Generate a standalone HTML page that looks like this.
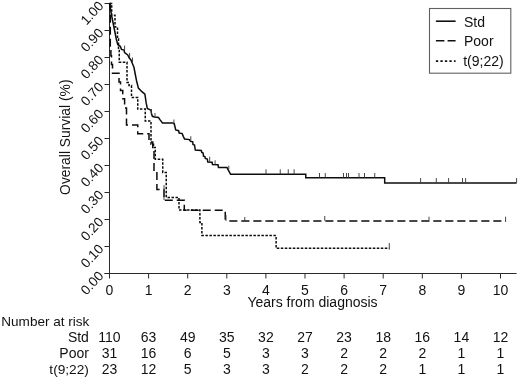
<!DOCTYPE html>
<html><head><meta charset="utf-8"><title>Overall Survival</title>
<style>
html,body{margin:0;padding:0;background:#fff;}
body{width:520px;height:377px;overflow:hidden;}
svg{display:block;font-family:"Liberation Sans",sans-serif;fill:#111;}
</style></head><body>
<svg width="520" height="377" viewBox="0 0 520 377">
<rect width="520" height="377" fill="#fff" stroke="none"/>
<g stroke="#2a2a2a" stroke-width="1" fill="none">
<line x1="109.50" y1="3" x2="109.50" y2="273.50"/>
<line x1="104.50" y1="273.50" x2="516.60" y2="273.50"/>
<line x1="109.50" y1="273.50" x2="109.50" y2="278.50"/>
<line x1="148.60" y1="273.50" x2="148.60" y2="278.50"/>
<line x1="187.70" y1="273.50" x2="187.70" y2="278.50"/>
<line x1="226.80" y1="273.50" x2="226.80" y2="278.50"/>
<line x1="265.90" y1="273.50" x2="265.90" y2="278.50"/>
<line x1="305.00" y1="273.50" x2="305.00" y2="278.50"/>
<line x1="344.10" y1="273.50" x2="344.10" y2="278.50"/>
<line x1="383.20" y1="273.50" x2="383.20" y2="278.50"/>
<line x1="422.30" y1="273.50" x2="422.30" y2="278.50"/>
<line x1="461.40" y1="273.50" x2="461.40" y2="278.50"/>
<line x1="500.50" y1="273.50" x2="500.50" y2="278.50"/>
<line x1="104.50" y1="273.50" x2="109.50" y2="273.50"/>
<line x1="104.50" y1="246.50" x2="109.50" y2="246.50"/>
<line x1="104.50" y1="219.50" x2="109.50" y2="219.50"/>
<line x1="104.50" y1="192.50" x2="109.50" y2="192.50"/>
<line x1="104.50" y1="165.50" x2="109.50" y2="165.50"/>
<line x1="104.50" y1="138.50" x2="109.50" y2="138.50"/>
<line x1="104.50" y1="111.50" x2="109.50" y2="111.50"/>
<line x1="104.50" y1="84.50" x2="109.50" y2="84.50"/>
<line x1="104.50" y1="57.50" x2="109.50" y2="57.50"/>
<line x1="104.50" y1="30.50" x2="109.50" y2="30.50"/>
<line x1="104.50" y1="3.50" x2="109.50" y2="3.50"/>
</g>
<g font-size="14.00" text-anchor="middle">
<text x="109.50" y="294.8">0</text>
<text x="148.60" y="294.8">1</text>
<text x="187.70" y="294.8">2</text>
<text x="226.80" y="294.8">3</text>
<text x="265.90" y="294.8">4</text>
<text x="305.00" y="294.8">5</text>
<text x="344.10" y="294.8">6</text>
<text x="383.20" y="294.8">7</text>
<text x="422.30" y="294.8">8</text>
<text x="461.40" y="294.8">9</text>
<text x="500.50" y="294.8">10</text>
</g>
<g font-size="13.50" text-anchor="end">
<text transform="translate(104.30,276.60) rotate(-47.0)" x="0" y="0">0.00</text>
<text transform="translate(104.30,249.60) rotate(-47.0)" x="0" y="0">0.10</text>
<text transform="translate(104.30,222.60) rotate(-47.0)" x="0" y="0">0.20</text>
<text transform="translate(104.30,195.60) rotate(-47.0)" x="0" y="0">0.30</text>
<text transform="translate(104.30,168.60) rotate(-47.0)" x="0" y="0">0.40</text>
<text transform="translate(104.30,141.60) rotate(-47.0)" x="0" y="0">0.50</text>
<text transform="translate(104.30,114.60) rotate(-47.0)" x="0" y="0">0.60</text>
<text transform="translate(104.30,87.60) rotate(-47.0)" x="0" y="0">0.70</text>
<text transform="translate(104.30,60.60) rotate(-47.0)" x="0" y="0">0.80</text>
<text transform="translate(104.30,33.60) rotate(-47.0)" x="0" y="0">0.90</text>
<text transform="translate(104.30,6.60) rotate(-47.0)" x="0" y="0">1.00</text>
</g>
<text font-size="13.85" text-anchor="middle" transform="translate(69.5,137.2) rotate(-90)">Overall Survial (%)</text>
<text font-size="14.00" text-anchor="middle" x="312.5" y="307.4">Years from diagnosis</text>
<g stroke="#0c0c0c" fill="none" stroke-width="1.5">
<path d="M109.50,3.50 L111.50,15.00 L114.00,27.50 L116.50,40.00 L117.75,44.50 L118.50,45.20 L120.25,46.25 L121.50,49.40 L124.00,50.00 L124.60,52.50 L127.75,55.00 L129.00,57.50 L130.90,60.00 L132.00,62.50 L134.00,67.50 L135.40,75.00 L136.60,81.00 L138.40,88.10 L141.90,91.70 L144.90,94.10 L146.10,102.40 L147.30,108.40 L150.90,110.20 L151.50,113.80 L152.40,116.30 L154.50,117.00 L158.50,117.50 L160.10,119.90 L162.50,122.90 L172.50,122.90 L174.20,123.50 L174.80,126.00 L175.70,130.00 L178.60,130.70 L179.20,133.00 L182.20,133.60 L183.40,136.60 L184.60,139.00 L189.40,139.60 L190.50,141.30 L192.70,141.80 L193.00,144.50 L194.50,145.00 L195.30,150.00 L201.30,150.50 L201.80,152.50 L203.10,153.00 L203.50,156.10 L204.90,156.50 L205.30,158.50 L207.30,159.00 L207.80,162.10 L212.10,162.30 L212.50,164.50 L218.00,164.80 L218.50,167.40 L227.00,167.60 L228.20,169.80 L230.60,174.30 L305.75,174.30 L305.75,177.80 L384.70,177.80 L384.70,182.90 L516.60,182.90"/>
<path d="M109.5,3.5 H110.3 V47 H110.9 V55.8 H111.5 V64.5 H112.5 V73.2 H119 V81.9 H120.5 V90.6 H122.75 V98.75 H124.6 V108 H126.5 V125 H137.75 V133.75 H149 V142 H152.75 V150 H154 V172 H156.9 V189.4 H164 V200.2 H184.3 V210.3 H225.25 V220.9 H227" stroke-dasharray="8 4"/>
<path d="M229.3,220.9 H505.6" stroke-dasharray="8.1 3.9"/>
<path d="M109.5,3.5 H111.7 V15.2 H115 V27 H117.5 V38.7 H118.5 V50.4 H119.25 V62.2 H127 V82.5 H129 V85.6 H131.5 V97.4 H137.75 V109.1 H145.25 V121 H151 V144.3 H153.5 V147.5 H155.25 V159.3 H162.75 V172.5 H166.25 V197.5 H179 V210 H199.9 V222.5 H201.9 V235.6 H276.1 V248.2 H389.3" stroke-dasharray="2.5 1.5"/>
</g>
<g stroke="#333" fill="none" stroke-width="0.9">
<line x1="124.60" y1="45.60" x2="124.60" y2="50.00"/><line x1="129.60" y1="53.00" x2="129.60" y2="57.00"/><line x1="132.50" y1="57.50" x2="132.50" y2="62.00"/><line x1="151.50" y1="109.00" x2="151.50" y2="114.00"/><line x1="155.00" y1="113.00" x2="155.00" y2="117.00"/><line x1="173.90" y1="119.50" x2="173.90" y2="124.50"/><line x1="190.80" y1="136.20" x2="190.80" y2="140.20"/><line x1="209.70" y1="156.70" x2="209.70" y2="162.00"/><line x1="215.10" y1="160.30" x2="215.10" y2="164.50"/><line x1="228.80" y1="165.70" x2="228.80" y2="169.50"/><line x1="266.00" y1="169.30" x2="266.00" y2="174.30"/><line x1="280.25" y1="169.30" x2="280.25" y2="174.30"/><line x1="288.25" y1="169.30" x2="288.25" y2="174.30"/><line x1="294.10" y1="169.30" x2="294.10" y2="174.30"/><line x1="319.50" y1="173.00" x2="319.50" y2="177.80"/><line x1="325.25" y1="173.00" x2="325.25" y2="177.80"/><line x1="343.50" y1="173.00" x2="343.50" y2="177.80"/><line x1="346.50" y1="173.00" x2="346.50" y2="177.80"/><line x1="348.50" y1="173.00" x2="348.50" y2="177.80"/><line x1="359.00" y1="173.00" x2="359.00" y2="177.80"/><line x1="364.50" y1="173.00" x2="364.50" y2="177.80"/><line x1="374.75" y1="173.00" x2="374.75" y2="177.80"/><line x1="420.60" y1="178.00" x2="420.60" y2="182.90"/><line x1="436.30" y1="178.00" x2="436.30" y2="182.90"/><line x1="448.60" y1="178.00" x2="448.60" y2="182.90"/><line x1="462.50" y1="178.00" x2="462.50" y2="182.90"/><line x1="465.60" y1="178.00" x2="465.60" y2="182.90"/><line x1="516.60" y1="178.00" x2="516.60" y2="182.90"/><line x1="389.30" y1="243.00" x2="389.30" y2="249.60"/><line x1="164.00" y1="185.00" x2="164.00" y2="200.00"/><line x1="226.00" y1="215.00" x2="226.00" y2="221.00"/><line x1="244.75" y1="217.00" x2="244.75" y2="221.00"/><line x1="324.75" y1="216.00" x2="324.75" y2="220.75"/><line x1="429.00" y1="216.70" x2="429.00" y2="220.50"/><line x1="505.60" y1="216.70" x2="505.60" y2="222.00"/>
</g>
<rect x="429.5" y="8.5" width="81.3" height="64.7" fill="#fff" stroke="#606060" stroke-width="1.1"/>
<g stroke="#111" stroke-width="1.6" fill="none">
<line x1="435.9" y1="21.2" x2="455.6" y2="21.2"/>
<line x1="435.9" y1="40.8" x2="455.6" y2="40.8" stroke-dasharray="8.5 3.2"/>
<line x1="435.9" y1="61.1" x2="455.6" y2="61.1" stroke-dasharray="2.3 2.2"/>
</g>
<g font-size="14.00">
<text x="464" y="26.6">Std</text><text x="464" y="45.7">Poor</text><text x="463.2" y="65.9">t(9;22)</text>
</g>
<g font-size="14.00">
<text x="1.3" y="326.3" font-size="13.55">Number at risk</text>
<text x="88.9" y="342.00" text-anchor="end">Std</text>
<text x="109.50" y="342.00" text-anchor="middle">110</text>
<text x="148.60" y="342.00" text-anchor="middle">63</text>
<text x="187.70" y="342.00" text-anchor="middle">49</text>
<text x="226.80" y="342.00" text-anchor="middle">35</text>
<text x="265.90" y="342.00" text-anchor="middle">32</text>
<text x="305.00" y="342.00" text-anchor="middle">27</text>
<text x="344.10" y="342.00" text-anchor="middle">23</text>
<text x="383.20" y="342.00" text-anchor="middle">18</text>
<text x="422.30" y="342.00" text-anchor="middle">16</text>
<text x="461.40" y="342.00" text-anchor="middle">14</text>
<text x="500.50" y="342.00" text-anchor="middle">12</text>
<text x="88.9" y="357.60" text-anchor="end">Poor</text>
<text x="109.50" y="357.60" text-anchor="middle">31</text>
<text x="148.60" y="357.60" text-anchor="middle">16</text>
<text x="187.70" y="357.60" text-anchor="middle">6</text>
<text x="226.80" y="357.60" text-anchor="middle">5</text>
<text x="265.90" y="357.60" text-anchor="middle">3</text>
<text x="305.00" y="357.60" text-anchor="middle">3</text>
<text x="344.10" y="357.60" text-anchor="middle">2</text>
<text x="383.20" y="357.60" text-anchor="middle">2</text>
<text x="422.30" y="357.60" text-anchor="middle">2</text>
<text x="461.40" y="357.60" text-anchor="middle">1</text>
<text x="500.50" y="357.60" text-anchor="middle">1</text>
<text x="88.9" y="373.70" text-anchor="end" font-size="13.7">t(9;22)</text>
<text x="109.50" y="373.70" text-anchor="middle">23</text>
<text x="148.60" y="373.70" text-anchor="middle">12</text>
<text x="187.70" y="373.70" text-anchor="middle">5</text>
<text x="226.80" y="373.70" text-anchor="middle">3</text>
<text x="265.90" y="373.70" text-anchor="middle">3</text>
<text x="305.00" y="373.70" text-anchor="middle">2</text>
<text x="344.10" y="373.70" text-anchor="middle">2</text>
<text x="383.20" y="373.70" text-anchor="middle">2</text>
<text x="422.30" y="373.70" text-anchor="middle">1</text>
<text x="461.40" y="373.70" text-anchor="middle">1</text>
<text x="500.50" y="373.70" text-anchor="middle">1</text>
</g>
</svg>
</body></html>
